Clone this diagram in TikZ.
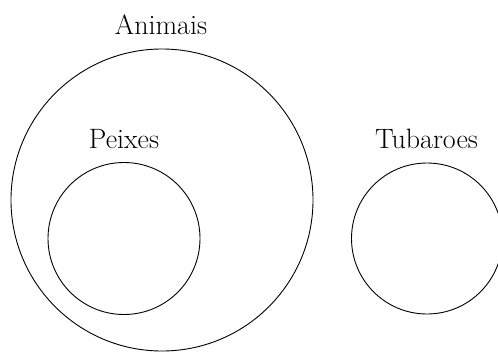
\documentclass[tikz,border=0pt]{standalone}
\begin{document}
\begin{tikzpicture}[x=1pt,y=-1pt,
  setc/.style={draw=black,line width=0.9pt,circle,inner sep=0pt},
  lbl/.style={font=\fontsize{28}{34}\selectfont,anchor=base,inner sep=0pt}]
\useasboundingbox (0,0) rectangle (498,351);
\begin{scope}
\clip (0,0) rectangle (498,351);
\node[setc,minimum size=302pt] (animais) at (162,200) {};
\node[setc,minimum size=152pt] (peixes) at (124,238.5) {};
\node[setc,minimum size=151pt] (tubaroes) at (427,238.5) {};
\end{scope}
\node[lbl] (lanimais) at (161,34) {Animais};
\node[lbl] (lpeixes) at (124,148) {Peixes};
\node[lbl] (ltubaroes) at (426.5,148) {Tubaroes};
\end{tikzpicture}
\end{document}
